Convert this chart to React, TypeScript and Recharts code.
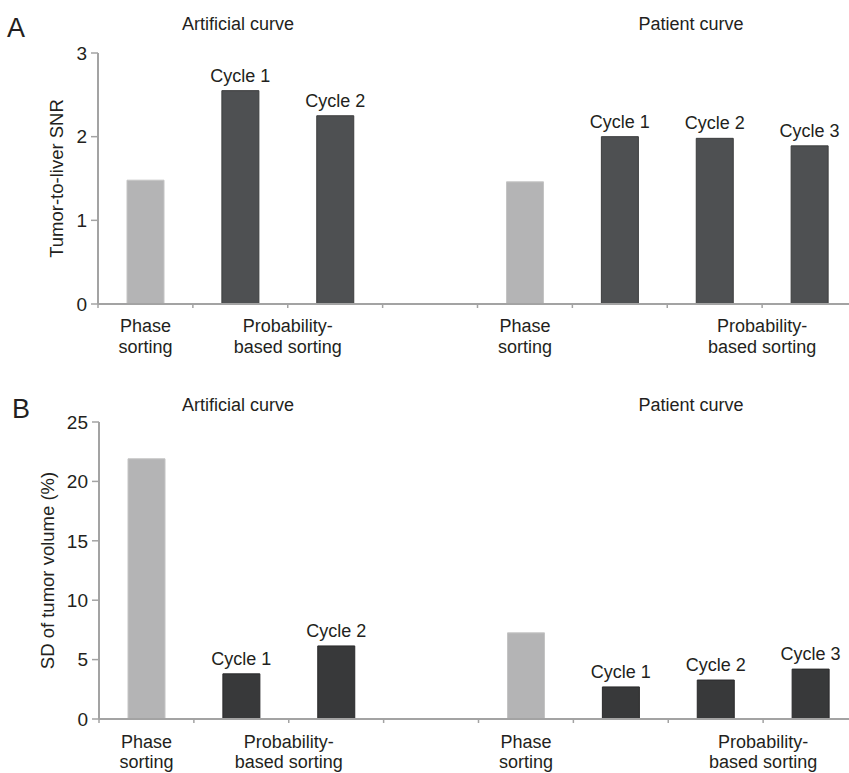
import React from 'react';
import { BarChart, Bar, XAxis, YAxis, Cell, LabelList } from 'recharts';

// slot positions on the x axis (one unit per slot, slot 3 left empty)
const slots = [0.5, 1.5, 2.5, 4.5, 5.5, 6.5, 7.5];
const kinds = ['phase', 'cycle', 'cycle', 'phase', 'cycle', 'cycle', 'cycle'];
const barTags = ['', 'Cycle 1', 'Cycle 2', '', 'Cycle 1', 'Cycle 2', 'Cycle 3'];

// panel A: tumor-to-liver SNR (artificial curve, then patient curve)
const snrArtificial = [1.48, 2.55, 2.25];
const snrPatient = [1.46, 2.0, 1.98, 1.89];
const snrTicks = [0, 1, 2, 3];

// panel B: SD of tumor volume (%)
const sdArtificial = [21.9, 3.8, 6.15];
const sdPatient = [7.25, 2.7, 3.28, 4.2];
const sdTicks = [0, 5, 10, 15, 20, 25];

// group captions under the x axis, at slot coordinates
const groupAt = [0.5, 2, 4.5, 7];
const groupText = [
  ['Phase', 'sorting'],
  ['Probability-', 'based sorting'],
  ['Phase', 'sorting'],
  ['Probability-', 'based sorting'],
];
const boundaryTicks = [0, 1, 2, 3, 4, 5, 6, 7, 8];

const INK = '#231f20';
const AXIS = '#a3a3a3';
const FONT = '"Liberation Sans", Arial, Helvetica, sans-serif';

function buildRows(values: number[]) {
  return slots.map((x, i) => ({ x, value: values[i], kind: kinds[i], tag: barTags[i] }));
}

const xTicks = Array.from(new Set([...boundaryTicks, ...groupAt])).sort((a, b) => a - b);

function makeXTick(line1: number, line2: number) {
  return function XTick({ x, y, payload }: any) {
    const v = payload.value;
    const gi = groupAt.indexOf(v);
    return (
      <g>
        {Number.isInteger(v) && <line x1={x} x2={x} y1={y} y2={y + 4} stroke={AXIS} strokeWidth={1.5} />}
        {gi >= 0 && (
          <text textAnchor="middle" fill={INK} fontSize={18}>
            <tspan x={x} y={y + line1}>{groupText[gi][0]}</tspan>
            <tspan x={x} y={y + line2}>{groupText[gi][1]}</tspan>
          </text>
        )}
      </g>
    );
  };
}

// cycle tag above a bar, kept on one line
function CycleTag({ x, y, width, value }: any) {
  if (!value) return null;
  return (
    <text x={x + width / 2} y={y - 9} textAnchor="middle" fill={INK} fontSize={18}>{value}</text>
  );
}

function yLabel(text: string, cx: number) {
  return (props: any) => {
    const vb = props.viewBox || {};
    const cy = (vb.y || 0) + (vb.height || 0) / 2;
    return (
      <text x={cx} y={cy} transform={`rotate(-90 ${cx} ${cy})`} textAnchor="middle"
        dominantBaseline="central" fill={INK} fontSize={18.5}>{text}</text>
    );
  };
}

interface PanelProps {
  values: number[];
  ticks: number[];
  label: string;
  labelX: number;
  height: number;
  top: number;
  bottom: number;
  axisHeight: number;
  yWidth: number;
  right: number;
  cycleFill: string;
  cycleStroke: string;
  line1: number;
  line2: number;
}

function Panel(p: PanelProps) {
  const rows = buildRows(p.values);
  return (
    <BarChart width={870} height={p.height} data={rows}
      margin={{ top: p.top, right: p.right, bottom: p.bottom, left: 0 }}>
      <XAxis type="number" dataKey="x" domain={[0, 8]} ticks={xTicks} interval={0}
        height={p.axisHeight} tickSize={0} tickMargin={0} tickLine={false}
        axisLine={{ stroke: AXIS, strokeWidth: 2 }} tick={makeXTick(p.line1, p.line2)} />
      <YAxis type="number" domain={[p.ticks[0], p.ticks[p.ticks.length - 1]]} ticks={p.ticks}
        interval={0} width={p.yWidth} tickSize={7} tickMargin={4}
        axisLine={{ stroke: AXIS, strokeWidth: 2 }} tickLine={{ stroke: AXIS, strokeWidth: 1.5 }}
        tick={{ fill: INK, fontSize: 19 }} label={{ value: p.label, content: yLabel(p.label, p.labelX) }} />
      <Bar dataKey="value" barSize={37} isAnimationActive={false}>
        {rows.map((r, i) => (
          <Cell key={i}
            fill={r.kind === 'phase' ? '#b4b4b5' : p.cycleFill}
            stroke={r.kind === 'phase' ? '#c4c4c4' : p.cycleStroke} strokeWidth={1} />
        ))}
        <LabelList dataKey="tag" content={<CycleTag />} />
      </Bar>
    </BarChart>
  );
}

const caption: React.CSSProperties = {
  position: 'absolute', fontSize: 18, color: INK, transform: 'translate(-50%, -50%)', whiteSpace: 'nowrap',
};
const letter: React.CSSProperties = { position: 'absolute', fontSize: 27, color: INK, lineHeight: 1 };

export default function App() {
  return (
    <div style={{ position: 'absolute', left: 0, top: 0, width: 849, height: 773, overflow: 'hidden',
      background: '#fff', fontFamily: FONT }}>
      <div style={{ position: 'absolute', left: 0, top: 0 }}>
        <Panel values={[...snrArtificial, ...snrPatient]} ticks={snrTicks} label="Tumor-to-liver SNR"
          labelX={56} height={380} top={53} bottom={16} axisHeight={60} yWidth={98} right={13}
          cycleFill="#4e5052" cycleStroke="#3c3d3e" line1={28} line2={49} />
      </div>
      <div style={{ position: 'absolute', left: 0, top: 380 }}>
        <Panel values={[...sdArtificial, ...sdPatient]} ticks={sdTicks} label="SD of tumor volume (%)"
          labelX={47} height={393} top={42} bottom={4} axisHeight={50} yWidth={99} right={12}
          cycleFill="#38393a" cycleStroke="#2a2a2b" line1={29} line2={49} />
      </div>
      <div style={{ ...letter, left: 7, top: 15 }}>A</div>
      <div style={{ ...letter, left: 12, top: 396 }}>B</div>
      <div style={{ ...caption, left: 238, top: 24 }}>Artificial curve</div>
      <div style={{ ...caption, left: 691, top: 24 }}>Patient curve</div>
      <div style={{ ...caption, left: 238, top: 405 }}>Artificial curve</div>
      <div style={{ ...caption, left: 691, top: 405 }}>Patient curve</div>
    </div>
  );
}
